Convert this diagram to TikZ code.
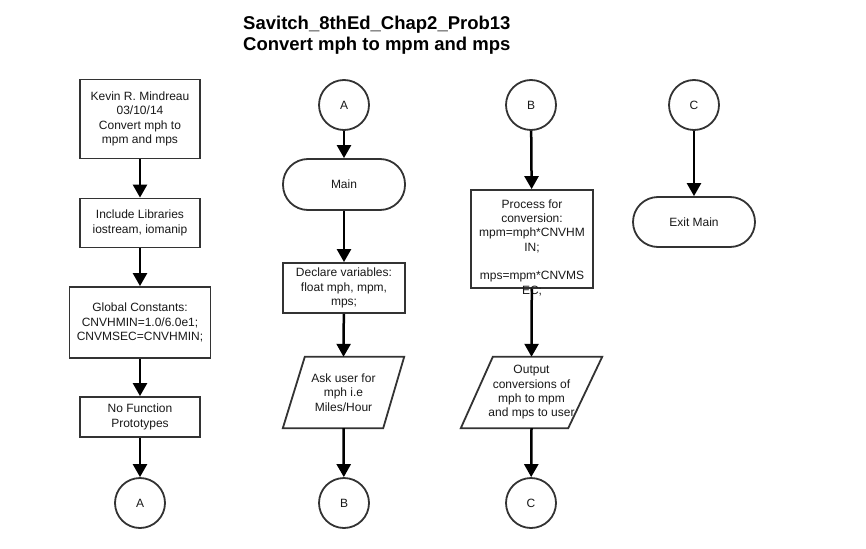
\documentclass[tikz,border=0pt]{standalone}
\usepackage{fontspec}
\setmainfont{Liberation Sans}
\usetikzlibrary{arrows.meta}
\begin{document}
\begin{tikzpicture}[x=1pt,y=-1pt,
  every node/.style={font=\fontsize{12}{14.3}\selectfont, text=black!90, inner sep=0pt, align=center},
  box/.style={draw=black!80, line width=1.8pt, minimum width=#1},
  box/.default=120pt,
  term/.style={draw=black!80, line width=1.8pt, rounded corners=25pt, minimum width=122pt, minimum height=50pt},
  conn/.style={draw=black!80, line width=1.8pt, circle, minimum size=50pt},
  plain/.style={minimum width=#1},
  shapeline/.style={draw=black!80, line width=1.8pt, line join=miter},
  flow/.style={-{Triangle[width=14pt,length=13pt]}, line width=2.5pt, black},
  titlefont/.style={font=\fontsize{18.5}{20}\bfseries\selectfont, text=black, align=left}
  ]
\useasboundingbox (0,0) rectangle (866,548);
\fill[white] (0,0) rectangle (866,548);

% title
\node[titlefont, anchor=base west] (title1) at (243,30) {Savitch\_8thEd\_Chap2\_Prob13};
\node[titlefont, anchor=base west] (title2) at (243,50.5) {Convert mph to mpm and mps};

% column 1
\node[box, minimum height=79pt] (k) at (140,119) {Kevin R. Mindreau\\03/10/14\\Convert mph to\\mpm and mps};
\node[box, minimum height=49pt] (inc) at (140,223) {Include Libraries\\iostream, iomanip};
\node[box=141pt, minimum height=71pt] (glob) at (140,322.5) {Global Constants:\\ CNVHMIN=1.0/6.0e1;\\CNVMSEC=CNVHMIN;};
\node[box, minimum height=40pt] (nofn) at (140,417) {No Function\\Prototypes};
\node[conn] (a1) at (140,503) {A};

% column 2
\node[conn] (a2) at (344,105) {A};
\node[term, minimum height=51pt] (main) at (344,184.5) {Main};
\node[box=122pt, minimum height=50pt] (decl) at (344,288) {Declare variables:\\float mph, mpm,\\mps;};
\node[plain=121pt, minimum height=71pt] (ask) at (343.5,392.5) {Ask user for\\mph i.e\\ Miles/Hour};
\draw[shapeline] ([xshift=22pt]ask.north west) -- (ask.north east) -- ([xshift=-21pt]ask.south east) -- (ask.south west) -- cycle;
\node[conn] (b1) at (344,503) {B};

% column 3
\node[conn] (b2) at (531,105) {B};
\node[box=122pt, minimum height=98pt] (proc) at (532,239) {};
\node[anchor=north] (proctext) at (532,199.5) {Process for\\conversion:\\mpm=mph*CNVHM\\IN;\\[14.3pt]mps=mpm*CNVMS\\EC;};
\node[plain=141pt, minimum height=71pt] (out) at (531.5,392.5) {Output\\conversions of\\mph to mpm\\and mps to user};
\draw[shapeline] ([xshift=32pt]out.north west) -- (out.north east) -- ([xshift=-34pt]out.south east) -- (out.south west) -- cycle;
\node[conn] (c1) at (531,503) {C};

% column 4
\node[conn] (c2) at (694,105) {C};
\node[term] (exit) at (694,222) {Exit Main};

% connectors
\draw[flow] (k) -- (inc);
\draw[flow] (inc) -- (glob);
\draw[flow] (glob) -- (nofn);
\draw[flow] (nofn) -- (a1);
\draw[flow] (a2) -- (main);
\draw[flow] (main) -- (decl);
\draw[flow] (decl) -- (ask.north);
\draw[flow] (ask.south) -- (b1);
\draw[flow] (b2) -- (proc);
\draw[flow] (proc) -- (out.north);
\draw[flow] (out.south) -- (c1);
\draw[flow] (c2) -- (exit);
\end{tikzpicture}
\end{document}
